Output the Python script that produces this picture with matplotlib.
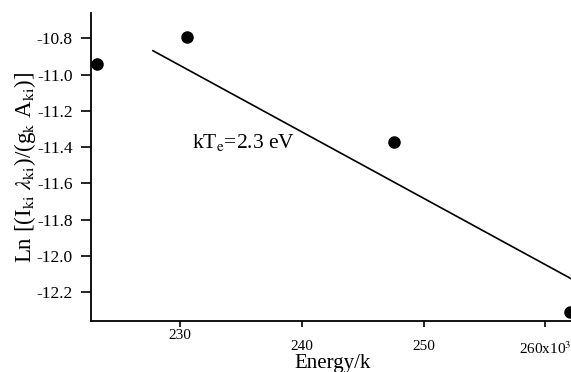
import matplotlib
matplotlib.use("Agg")
import matplotlib.pyplot as plt
import matplotlib.transforms as mtransforms

plt.rcParams['font.family'] = ['Liberation Serif', 'DejaVu Serif']
plt.rcParams['mathtext.fontset'] = 'stix'
plt.rcParams['axes.unicode_minus'] = False

# measured points (energy in units of 10^3)
energy = [223.2, 230.6, 247.6, 262.0]
ln_val = [-10.94, -10.79, -11.37, -12.31]

# fitted line end points
fit_x = [227.8, 262.1]
fit_y = [-10.868, -12.126]

xticks = [230, 240, 250, 260]
xtick_labels = ['230', '240', '250', '260x10$^3$']
yticks = [-10.8, -11.0, -11.2, -11.4, -11.6, -11.8, -12.0, -12.2]

fig = plt.figure(figsize=(5.71, 3.72), dpi=100)
ax = fig.add_axes([0.159, 0.137, 0.841, 0.828])

ax.plot(fit_x, fit_y, color='black', lw=1.2)
ax.plot(energy, ln_val, 'o', color='black', ms=8, clip_on=False)

ax.set_xlim(222.7, 262.1)
ax.set_ylim(-12.36, -10.66)

ax.spines['top'].set_visible(False)
ax.spines['right'].set_visible(False)
ax.spines['left'].set_linewidth(1.3)
ax.spines['bottom'].set_linewidth(1.3)

ax.set_xticks(xticks)
ax.set_xticklabels(xtick_labels)
ax.set_yticks(yticks)
ax.set_yticklabels(['%.1f' % v for v in yticks])
ax.tick_params(axis='y', direction='out', length=7, width=1.2, labelsize=12.5, pad=6)
ax.tick_params(axis='x', direction='out', length=4, width=1.2, labelsize=11, pad=10)

# the 230 label sits a little higher in the original
lbl = ax.get_xticklabels()[0]
lbl.set_transform(lbl.get_transform() + mtransforms.ScaledTranslation(0, 8 / 72, fig.dpi_scale_trans))

ax.set_xlabel('Energy/k', fontsize=15)
ax.xaxis.set_label_coords(0.504, -0.108)
ax.set_ylabel(r'Ln [(I$_{\mathrm{ki}}$ $\lambda_{\mathrm{ki}}$)/(g$_{\mathrm{k}}$ A$_{\mathrm{ki}}$)]', fontsize=16.5)
ax.yaxis.set_label_coords(-0.11, 0.5)

ax.text(231.0, -11.404, 'kT$_{\\mathrm{e}}$=2.3 eV', fontsize=15.5, ha='left', va='baseline')

fig.savefig('out.png', dpi=100)
